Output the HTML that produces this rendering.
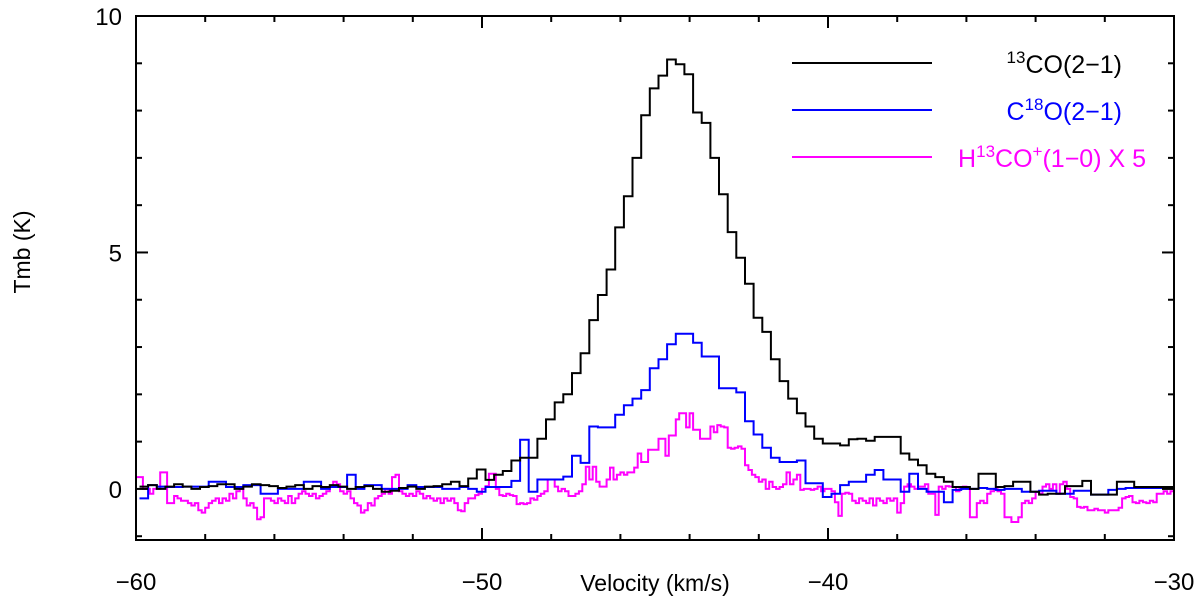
<!DOCTYPE html>
<html><head><meta charset="utf-8"><style>
html,body{margin:0;padding:0;background:#fff;}
svg{display:block;font-family:"Liberation Sans",sans-serif;}
</style></head><body>
<svg id="chart" width="1200" height="602" viewBox="0 0 1200 602">
<defs><clipPath id="clip"><rect x="136" y="16" width="1038" height="524"/></clipPath></defs>
<g id="series" clip-path="url(#clip)"></g>
<rect x="136" y="16" width="1038" height="524" fill="none" stroke="#000" stroke-width="2"/>
<g id="axes"></g>
<text x="22" y="252" font-size="23" text-anchor="middle" transform="rotate(-90 22 252)" dy="8">Tmb (K)</text>
<text x="655" y="591" font-size="23" text-anchor="middle">Velocity (km/s)</text>
<g>
<line x1="792" y1="63" x2="932" y2="63" stroke="#000" stroke-width="2"/>
<text x="1122" y="73" font-size="25" text-anchor="end" fill="#000"><tspan font-size="17" dy="-10">13</tspan><tspan dy="10">CO(2−1)</tspan></text>
<line x1="792" y1="110" x2="932" y2="110" stroke="#00f" stroke-width="2"/>
<text x="1122" y="120" font-size="25" text-anchor="end" fill="#00f">C<tspan font-size="17" dy="-10">18</tspan><tspan dy="10">O(2−1)</tspan></text>
<line x1="792" y1="157" x2="932" y2="157" stroke="#f0f" stroke-width="2"/>
<text x="1146" y="167" font-size="25" text-anchor="end" fill="#f0f">H<tspan font-size="17" dy="-10">13</tspan><tspan dy="10">CO</tspan><tspan font-size="17" dy="-10">+</tspan><tspan dy="10">(1−0) X 5</tspan></text>
</g>
</svg>
<script>
const xTicks = [-60, -50, -40, -30];
const yTicks = [0, 5, 10];
const xMin = -60, xMax = -30, yMin = -1.08, yMax = 10;
const coStart = -59.9, coStep = 0.25;
const hcoStart = -60, hcoStep = 0.1;
const co13 = [0.05,0.08,0.0,0.05,0.1,0.05,0.0,0.04,0.06,0.1,0.1,0.0,0.05,0.1,0.08,0.06,0.02,0.05,0.08,0.0,
0.06,0.04,0.08,0.05,0.0,0.04,0.06,0.0,-0.06,-0.04,0.02,0.05,0.0,0.05,0.06,0.1,0.15,
0.06,0.22,0.41,0.19,0.3,0.38,0.6,0.66,0.66,
1.06,1.47,1.83,2.0,2.45,2.87,3.57,4.1,4.64,5.53,6.19,7.0,7.9,8.47,8.74,9.08,8.98,8.77,7.96,7.74,
7.0,6.23,5.43,4.89,4.34,3.62,3.32,2.74,2.28,1.91,1.6,1.32,1.06,0.96,0.96,0.92,1.05,1.06,1.02,1.1,
1.1,1.1,0.75,0.62,0.5,0.32,0.25,0.15,0.04,0.04,0.0,0.32,0.32,0.04,0.06,0.15,0.15,-0.06,-0.12,-0.1,
-0.1,0.06,0.06,0.17,-0.12,-0.12,-0.12,0.15,0.15,0.04,0.04,0.04,0.04,0.04];
const c18o = [-0.2,0.08,0.05,0.04,0.04,0.05,0.05,0.05,0.15,0.15,0.04,0.04,0.08,0.08,-0.1,-0.1,0.0,0.0,0.0,0.15,
0.15,0.0,0.04,0.04,0.3,0.0,0.08,0.08,0.0,0.0,0.0,0.08,0.04,0.04,0.04,0.0,0.0,0.04,0.0,-0.06,
0.04,0.04,0.04,0.17,
1.04,-0.06,0.2,0.2,0.2,0.26,0.7,0.55,1.32,1.3,1.3,1.57,1.77,1.91,2.09,2.55,2.74,3.06,3.28,3.28,
3.09,2.8,2.8,2.13,2.13,2.04,1.43,1.15,0.87,0.66,0.57,0.57,0.6,0.12,0.12,-0.17,-0.1,0.08,0.15,0.15,
0.3,0.4,0.2,0.2,-0.06,0.32,0.0,-0.06,-0.06,-0.28,-0.02,0.0,0.0,0.02,0.0,-0.02,0.0,0.0,-0.06,-0.06,
-0.04,-0.04,-0.1,-0.1,-0.04,-0.04,-0.12,-0.12,-0.02,0.0,0.02,0.02,0.02,0.02,0.02,0.02];
const h13co = [0.25,0.25,0.0,0.0,-0.1,0.0,0.0,0.35,0.35,-0.3,-0.3,-0.15,-0.2,-0.25,-0.25,-0.3,-0.35,-0.3,-0.45,-0.5,
-0.4,-0.3,-0.25,-0.2,-0.3,-0.2,-0.25,-0.1,-0.2,-0.05,0.0,-0.2,-0.35,-0.3,-0.4,-0.64,-0.6,-0.2,-0.2,-0.25,
-0.3,-0.2,-0.25,-0.3,-0.15,-0.3,-0.2,-0.1,-0.05,-0.1,-0.15,-0.1,-0.2,-0.15,-0.1,-0.05,0.05,0.15,0.1,-0.05,
-0.1,-0.05,-0.2,-0.3,-0.35,-0.5,-0.45,-0.3,-0.35,-0.2,-0.15,-0.1,0.0,-0.1,0.25,0.3,-0.05,-0.1,-0.15,-0.1,
-0.15,-0.05,-0.1,-0.2,-0.15,-0.2,-0.25,-0.2,-0.3,-0.2,-0.25,-0.2,-0.3,-0.45,-0.47,-0.3,-0.2,-0.2,-0.13,-0.1,
0.0,0.06,0.32,0.32,0.0,-0.13,-0.15,-0.1,-0.13,-0.15,-0.32,-0.3,-0.32,-0.3,-0.2,-0.23,-0.15,-0.1,-0.05,0.2,
0.2,0.05,-0.05,0.0,-0.05,-0.15,-0.15,-0.1,-0.05,0.1,0.47,0.2,0.47,0.15,0.05,0.05,0.2,0.45,0.2,0.3,
0.35,0.3,0.35,0.35,0.45,0.75,0.57,0.57,0.83,0.83,0.83,1.06,1.06,0.7,1.13,1.13,1.47,1.6,1.6,1.3,
1.6,1.25,1.25,1.06,1.06,1.06,1.32,1.2,1.35,1.32,1.3,0.87,0.85,0.87,0.9,0.85,0.5,0.4,0.3,0.25,
0.15,0.2,0.0,0.15,0.04,0.0,0.04,0.1,0.35,0.1,0.2,0.3,-0.02,0.0,0.0,-0.02,0.0,0.05,-0.05,0.0,
0.0,-0.05,-0.28,-0.57,-0.1,-0.08,-0.1,-0.25,-0.3,-0.2,-0.25,-0.3,-0.2,-0.35,-0.2,-0.25,-0.3,-0.2,-0.25,-0.2,
-0.5,-0.3,0.05,0.1,0.05,0.0,0.05,0.05,0.1,-0.1,-0.1,-0.55,0.05,0.0,0.06,0.05,0.04,-0.05,0.0,0.05,
0.0,-0.6,-0.6,-0.3,-0.25,-0.3,-0.1,-0.05,0.0,-0.05,-0.1,-0.6,-0.6,-0.7,-0.7,-0.6,-0.3,-0.25,-0.3,-0.2,
-0.06,-0.1,0.05,0.1,0.0,0.1,-0.1,0.1,0.15,0.0,-0.17,-0.2,-0.38,-0.4,-0.38,-0.45,-0.45,-0.42,-0.45,-0.45,
-0.5,-0.45,-0.45,-0.45,-0.4,-0.2,-0.17,-0.15,-0.28,-0.3,-0.25,-0.28,-0.3,-0.25,-0.28,-0.1,-0.1,-0.05,-0.1,-0.05];

const L = 136, R = 1174, T = 16, B = 540;
const sx = v => L + (v - xMin) / (xMax - xMin) * (R - L);
const sy = v => B - (v - yMin) / (yMax - yMin) * (B - T);
const NS = 'http://www.w3.org/2000/svg';

function stepPath(vals, start, step) {
  let d = '';
  vals.forEach((v, i) => {
    const x0 = sx(start + i * step), x1 = sx(start + (i + 1) * step), y = sy(v);
    d += (i === 0 ? 'M' : 'L') + x0.toFixed(1) + ' ' + y.toFixed(1) + 'L' + x1.toFixed(1) + ' ' + y.toFixed(1);
  });
  return d;
}
const g = document.getElementById('series');
function addSeries(vals, start, step, color, name) {
  const p = document.createElementNS(NS, 'path');
  p.setAttribute('d', stepPath(vals, start, step));
  p.setAttribute('fill', 'none');
  p.setAttribute('stroke', color);
  p.setAttribute('stroke-width', '2');
  
  
  g.appendChild(p);
}
addSeries(h13co, hcoStart, hcoStep, '#ff00ff', 'series-h13co-plus');
addSeries(c18o, coStart, coStep, '#0000ff', 'series-c18o');
addSeries(co13, coStart, coStep, '#000000', 'series-13co');

const ax = document.getElementById('axes');
function line(x1, y1, x2, y2, name) {
  const l = document.createElementNS(NS, 'line');
  l.setAttribute('x1', x1); l.setAttribute('y1', y1);
  l.setAttribute('x2', x2); l.setAttribute('y2', y2);
  l.setAttribute('stroke', '#000'); l.setAttribute('stroke-width', '2');
  
  
  ax.appendChild(l);
}
function text(x, y, s, anchor, name) {
  const t = document.createElementNS(NS, 'text');
  t.setAttribute('x', x); t.setAttribute('y', y);
  t.setAttribute('font-size', '24');
  t.setAttribute('text-anchor', anchor);
  t.textContent = s;
  
  
  ax.appendChild(t);
}
for (let v = xMin; v <= xMax; v += 2) {
  const major = (v % 10 === 0);
  const len = major ? 12 : 6;
  line(sx(v), B, sx(v), B - len, 'x-tick');
  line(sx(v), T, sx(v), T + len, 'x-tick-top');
}
xTicks.forEach(v => text(sx(v), 590, (v < 0 ? '−' : '') + Math.abs(v), 'middle', 'x-tick-label'));
for (let v = -1; v <= yMax; v += 1) {
  const major = (v % 5 === 0);
  const len = major ? 12 : 6;
  line(L, sy(v), L + len, sy(v), 'y-tick');
  line(R, sy(v), R - len, sy(v), 'y-tick-right');
}
yTicks.forEach(v => text(122, sy(v) + 9, String(v), 'end', 'y-tick-label'));
</script>
</body></html>
